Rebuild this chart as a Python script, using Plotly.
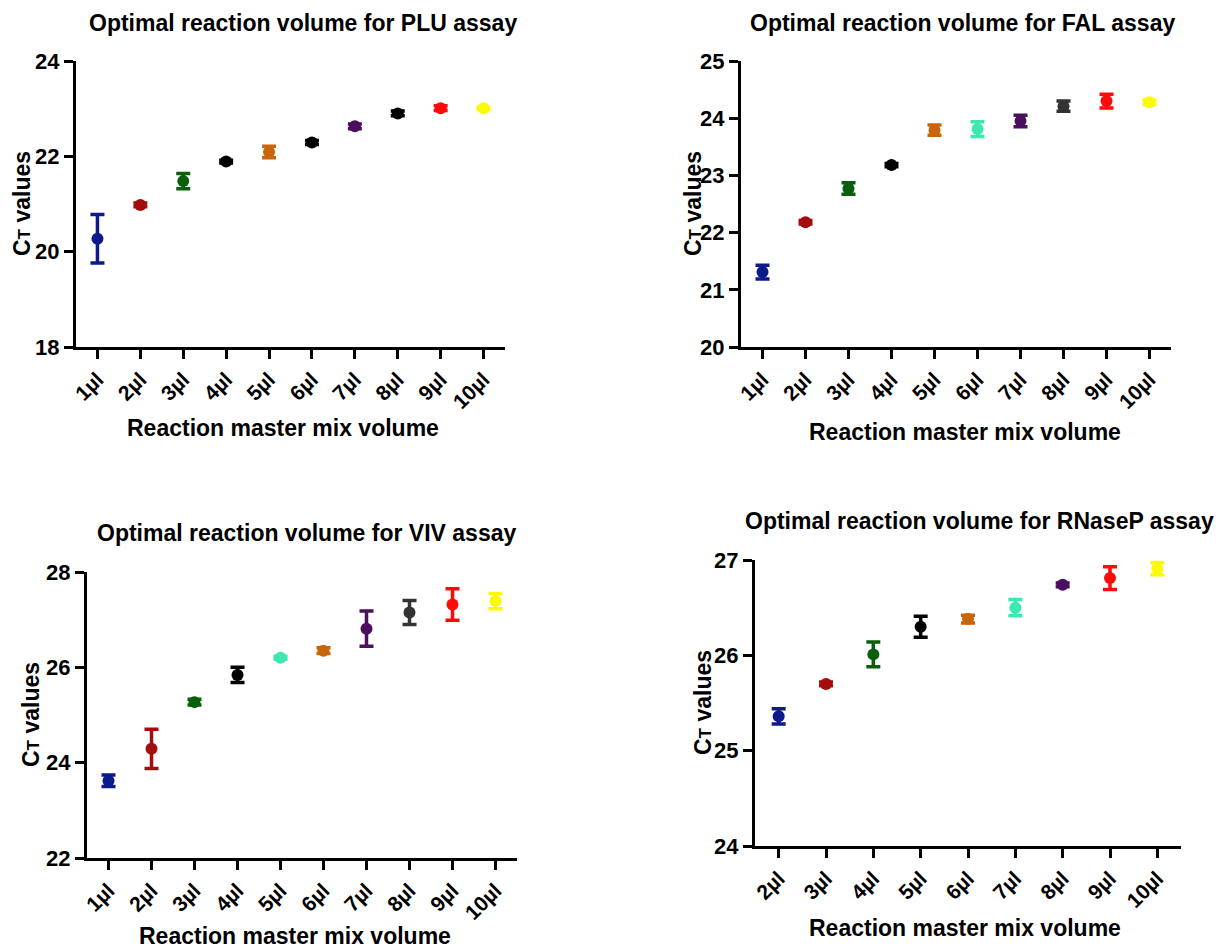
import plotly.graph_objects as go

# page body has an 8px default margin; figure placed at (8, 8) in the window
OFF = 8
W, H = 1222 - OFF, 951 - OFF

# ---------------- data ----------------
labels_10 = ["1µl", "2µl", "3µl", "4µl", "5µl", "6µl", "7µl", "8µl", "9µl", "10µl"]
volumes_10 = [1, 2, 3, 4, 5, 6, 7, 8, 9, 10]
labels_9 = ["2µl", "3µl", "4µl", "5µl", "6µl", "7µl", "8µl", "9µl", "10µl"]
volumes_9 = [2, 3, 4, 5, 6, 7, 8, 9, 10]

plu_mean = [20.27, 20.98, 21.48, 21.89, 22.09, 22.29, 22.63, 22.90, 23.01, 23.01]
plu_err = [0.51, 0.04, 0.16, 0.03, 0.12, 0.04, 0.05, 0.05, 0.05, 0.02]

fal_mean = [21.31, 22.18, 22.77, 23.18, 23.79, 23.81, 23.95, 24.21, 24.30, 24.28]
fal_err = [0.12, 0.03, 0.10, 0.03, 0.09, 0.13, 0.10, 0.09, 0.12, 0.04]

viv_mean = [23.62, 24.29, 25.27, 25.84, 26.20, 26.35, 26.81, 27.15, 27.32, 27.39]
viv_err = [0.12, 0.41, 0.06, 0.16, 0.03, 0.06, 0.37, 0.25, 0.33, 0.16]

rnp_mean = [25.36, 25.70, 26.01, 26.30, 26.38, 26.50, 26.74, 26.81, 26.91]
rnp_err = [0.08, 0.02, 0.13, 0.11, 0.04, 0.085, 0.02, 0.12, 0.065]

NAVY, DRED, DGREEN, BLACK = "#0d1a8c", "#a30d0d", "#0a600a", "#000000"
ORANGE, AQUA, PURPLE, DGRAY = "#c8650c", "#3ee6b0", "#4a0f5e", "#333333"
RED, YELLOW = "#ff0a0a", "#fafa00"

plu_colors = [NAVY, DRED, DGREEN, BLACK, ORANGE, BLACK, PURPLE, BLACK, RED, YELLOW]
fal_colors = [NAVY, DRED, DGREEN, BLACK, ORANGE, AQUA, PURPLE, DGRAY, RED, YELLOW]
viv_colors = [NAVY, DRED, DGREEN, BLACK, AQUA, ORANGE, PURPLE, DGRAY, RED, YELLOW]
rnp_colors = [NAVY, DRED, DGREEN, BLACK, ORANGE, AQUA, PURPLE, RED, YELLOW]

titles = ["Optimal reaction volume for PLU assay",
          "Optimal reaction volume for FAL assay",
          "Optimal reaction volume for VIV assay",
          "Optimal reaction volume for RNaseP assay"]
x_title = "Reaction master mix volume"
y_title = "C<span style='font-size:17px'>T</span> values"

# ---------------- layout geometry (window pixels) ----------------
# (x0, x1, ytop, ybottom)
boxes = [(76, 505, 61, 347), (741, 1171, 61, 347), (87, 517, 572, 858), (755, 1181, 560, 846)]
title_pos = [(303, 23), (962, 23), (306, 533), (979, 521)]
xtitle_pos = [(283, 428), (965, 432), (295, 936), (965, 928)]
ytitle_x = [22, 693, 31, 703]

panels = [
    (volumes_10, labels_10, plu_mean, plu_err, plu_colors, [18, 24], 2),
    (volumes_10, labels_10, fal_mean, fal_err, fal_colors, [20, 25], 1),
    (volumes_10, labels_10, viv_mean, viv_err, viv_colors, [22, 28], 2),
    (volumes_9, labels_9, rnp_mean, rnp_err, rnp_colors, [24, 27], 1),
]


def px(x):
    return (x - OFF) / W


def py(y):
    return 1 - (y - OFF) / H


FONT = "Liberation Sans, Arial, sans-serif"
fig = go.Figure()
annotations = []

for i, (xs, labs, means, errs, cols, yr, dt) in enumerate(panels):
    n = i + 1
    xa = "x" if n == 1 else f"x{n}"
    ya = "y" if n == 1 else f"y{n}"
    for xv, mv, ev, c in zip(xs, means, errs, cols):
        fig.add_trace(go.Scatter(
            x=[xv], y=[mv], mode="markers", xaxis=xa, yaxis=ya,
            marker=dict(color=c, size=12, symbol="circle", line=dict(width=0)),
            error_y=dict(type="data", array=[ev], visible=True, color=c,
                         thickness=3.5, width=7),
            showlegend=False, hoverinfo="skip"))
    x0, x1, yt, yb = boxes[i]
    xdom = [px(x0), px(x1)]
    ydom = [py(yb), py(yt)]
    axis_common = dict(showline=True, linewidth=3, linecolor="black", ticks="outside",
                       ticklen=9, tickwidth=3, tickcolor="black", showgrid=False,
                       zeroline=False, mirror=False, automargin=False)
    fig.layout[f"xaxis{'' if n == 1 else n}"] = dict(
        domain=xdom, anchor=ya, range=[xs[0] - 0.5, xs[-1] + 0.5],
        tickmode="array", tickvals=xs, ticktext=labs, tickangle=-45,
        tickfont=dict(family=FONT, size=21, color="black", weight="bold"), **axis_common)
    fig.layout[f"yaxis{'' if n == 1 else n}"] = dict(
        domain=ydom, anchor=xa, range=yr, dtick=dt, tick0=yr[0],
        tickfont=dict(family=FONT, size=22, color="black", weight="bold"), **axis_common)

    tx, ty = title_pos[i]
    annotations.append(dict(text=f"<b>{titles[i]}</b>", x=px(tx), y=py(ty),
                            xref="paper", yref="paper", xanchor="center", yanchor="middle",
                            showarrow=False, font=dict(family=FONT, size=23, color="black")))
    xx, xy = xtitle_pos[i]
    annotations.append(dict(text=f"<b>{x_title}</b>", x=px(xx), y=py(xy),
                            xref="paper", yref="paper", xanchor="center", yanchor="middle",
                            showarrow=False, font=dict(family=FONT, size=23, color="black")))
    annotations.append(dict(text=f"<b>{y_title}</b>", x=px(ytitle_x[i]),
                            y=(ydom[0] + ydom[1]) / 2,
                            xref="paper", yref="paper", xanchor="center", yanchor="middle",
                            textangle=-90, showarrow=False,
                            font=dict(family=FONT, size=23, color="black")))

fig.update_layout(width=W, height=H,
                  margin=dict(l=0, r=0, t=0, b=0, autoexpand=False),
                  paper_bgcolor="white", plot_bgcolor="white",
                  annotations=annotations, showlegend=False)

fig.write_html("out.html")
